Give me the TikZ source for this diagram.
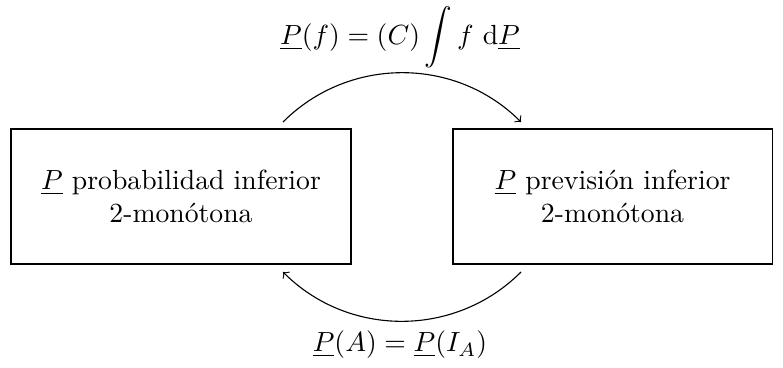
\documentclass[tikz,border=0pt]{standalone}
\usepackage{amsmath}
\begin{document}
\begin{tikzpicture}[x=0.361pt,y=-0.361pt,
  boxnode/.style={draw, align=center, inner sep=0pt},
  arc/.style={->, bend left=45}]
\useasboundingbox (0,0) rectangle (783,367);
\node[boxnode, minimum width=122.7pt, minimum height=48.7pt] (L) at (181,196.5)
  {$\underline{P}$ probabilidad inferior\\2-mon\'otona};
\node[boxnode, minimum width=115.2pt, minimum height=48.7pt] (R) at (612.5,196.5)
  {$\underline{P}$ previsi\'on inferior\\2-mon\'otona};
\coordinate (lt) at (283,122);
\coordinate (rt) at (521,122);
\coordinate (lb) at (283,272);
\coordinate (rb) at (521,272);
\draw[arc] (lt) to (rt);
\draw[arc] (rb) to (lb);
\node (top) at (400,37.5) {$\displaystyle \underline{P}(f)=(C)\int f\ \mathrm{d}\underline{P}$};
\node (bot) at (400,345) {$\underline{P}(A)=\underline{P}(I_A)$};
\end{tikzpicture}
\end{document}
